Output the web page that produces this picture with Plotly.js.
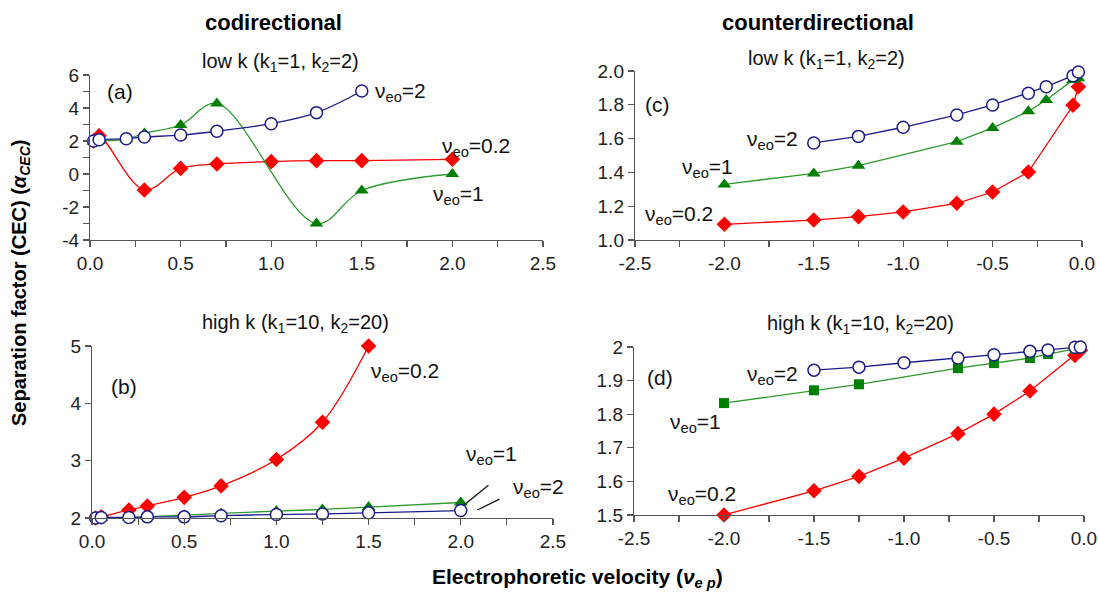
<!DOCTYPE html>
<html>
<head>
<meta charset="utf-8">
<script src="https://cdn.plot.ly/plotly-3.0.1.min.js"></script>
<style>html,body{margin:0;padding:0;background:#fff;}#chart{width:1098px;height:592px;}</style>
</head>
<body>
<div id="chart"></div>
<script>
// ---------- Data ----------
// (a) codirectional, low k
const aX_red   = [0.02, 0.05, 0.3, 0.5, 0.7, 1.0, 1.25, 1.5, 2.0];
const aY_red   = [2.0, 2.32, -0.97, 0.34, 0.61, 0.75, 0.81, 0.81, 0.89];
const aX_green = [0.02, 0.05, 0.2, 0.3, 0.5, 0.7, 1.25, 1.5, 2.0];
const aY_green = [1.96, 2.0, 2.1, 2.46, 2.97, 4.28, -3.0, -1.0, 0.0];
const aX_blue  = [0.02, 0.05, 0.2, 0.3, 0.5, 0.7, 1.0, 1.25, 1.5];
const aY_blue  = [2.0, 2.08, 2.14, 2.24, 2.36, 2.59, 3.05, 3.72, 5.03];
// (b) codirectional, high k
const bX_red   = [0.02, 0.05, 0.2, 0.3, 0.5, 0.7, 1.0, 1.25, 1.5];
const bY_red   = [2.0, 2.02, 2.14, 2.21, 2.36, 2.56, 3.02, 3.67, 5.0];
const bX_green = [0.02, 0.05, 0.2, 0.3, 0.5, 0.7, 1.0, 1.25, 1.5, 2.0];
const bY_green = [1.98, 2.0, 2.0, 2.02, 2.05, 2.08, 2.12, 2.15, 2.19, 2.27];
const bX_blue  = [0.02, 0.05, 0.2, 0.3, 0.5, 0.7, 1.0, 1.25, 1.5, 2.0];
const bY_blue  = [2.0, 2.01, 2.01, 2.02, 2.02, 2.04, 2.06, 2.07, 2.09, 2.13];
// (c) counterdirectional, low k
const cX_red   = [-2.0, -1.5, -1.25, -1.0, -0.7, -0.5, -0.3, -0.05, -0.02];
const cY_red   = [1.093, 1.118, 1.138, 1.166, 1.217, 1.284, 1.402, 1.797, 1.907];
const cX_green = [-2.0, -1.5, -1.25, -0.7, -0.5, -0.3, -0.2, -0.05, -0.02];
const cY_green = [1.329, 1.394, 1.44, 1.582, 1.663, 1.761, 1.828, 1.947, 1.957];
const cX_blue  = [-1.5, -1.25, -1.0, -0.7, -0.5, -0.3, -0.2, -0.05, -0.02];
const cY_blue  = [1.574, 1.613, 1.667, 1.74, 1.799, 1.868, 1.907, 1.972, 1.994];
// (d) counterdirectional, high k
const dX_red   = [-2.0, -1.5, -1.25, -1.0, -0.7, -0.5, -0.3, -0.05, -0.02];
const dY_red   = [1.50, 1.572, 1.615, 1.669, 1.742, 1.80, 1.869, 1.975, 1.99];
const dX_green = [-2.0, -1.5, -1.25, -0.7, -0.5, -0.3, -0.2, -0.05, -0.02];
const dY_green = [1.833, 1.871, 1.889, 1.937, 1.952, 1.967, 1.979, 1.995, 1.997];
const dX_blue  = [-1.5, -1.25, -1.0, -0.7, -0.5, -0.3, -0.2, -0.05, -0.02];
const dY_blue  = [1.931, 1.94, 1.953, 1.967, 1.977, 1.987, 1.991, 1.999, 2.0];

// Tick labels
const coTickVals = [0, 0.5, 1.0, 1.5, 2.0, 2.5];
const coTickText = ['0.0', '0.5', '1.0', '1.5', '2.0', '2.5'];
const ctTickVals = [-2.5, -2.0, -1.5, -1.0, -0.5, 0];
const ctTickText = ['-2.5', '-2.0', '-1.5', '-1.0', '-0.5', '0.0'];
const aYTickVals = [-4, -2, 0, 2, 4, 6];
const aYTickText = ['-4', '-2', '0', '2', '4', '6'];
const bYTickVals = [2, 3, 4, 5];
const cYTickVals = [1.0, 1.2, 1.4, 1.6, 1.8, 2.0];
const cYTickText = ['1.0', '1.2', '1.4', '1.6', '1.8', '2.0'];
const dYTickVals = [1.5, 1.6, 1.7, 1.8, 1.9, 2.0];
const dYTickText = ['1.5', '1.6', '1.7', '1.8', '1.9', '2'];

// ---------- Styles ----------
const RED = '#ff0000', GREEN_M = '#008000', GREEN_L = '#2f9a2f', BLUE = '#1c1c8c';
const FONT = 'Liberation Sans, Arial, sans-serif';

function tr(x, y, xa, ya, kind, shape, square) {
  const t = {x: x, y: y, xaxis: xa, yaxis: ya, mode: 'lines+markers', type: 'scatter',
    cliponaxis: false, hoverinfo: 'skip'};
  const ls = shape === 'spline' ? {shape: 'spline', smoothing: 1} : {shape: 'linear'};
  if (kind === 'red') {
    t.line = Object.assign({color: RED, width: 1.3}, ls);
    t.marker = {symbol: 'diamond', size: 12, color: RED};
  } else if (kind === 'green') {
    t.line = Object.assign({color: GREEN_L, width: 1.3}, ls);
    t.marker = square ? {symbol: 'square', size: 10, color: GREEN_M}
                      : {symbol: 'triangle-up', size: 12, color: GREEN_M};
  } else {
    t.line = Object.assign({color: BLUE, width: 1.3}, ls);
    t.marker = {symbol: 'circle', size: 12, color: '#ffffff', line: {color: BLUE, width: 1.5}};
  }
  return t;
}

const data = [
  tr(aX_red, aY_red, 'x', 'y', 'red', 'spline'),
  tr(aX_green, aY_green, 'x', 'y', 'green', 'spline'),
  tr(aX_blue, aY_blue, 'x', 'y', 'blue', 'spline'),
  tr(cX_red, cY_red, 'x2', 'y2', 'red', 'linear'),
  tr(cX_green, cY_green, 'x2', 'y2', 'green', 'linear'),
  tr(cX_blue, cY_blue, 'x2', 'y2', 'blue', 'linear'),
  tr(bX_red, bY_red, 'x3', 'y3', 'red', 'spline'),
  tr(bX_green, bY_green, 'x3', 'y3', 'green', 'spline'),
  tr(bX_blue, bY_blue, 'x3', 'y3', 'blue', 'spline'),
  tr(dX_red, dY_red, 'x4', 'y4', 'red', 'linear'),
  tr(dX_green, dY_green, 'x4', 'y4', 'green', 'linear', true),
  tr(dX_blue, dY_blue, 'x4', 'y4', 'blue', 'linear')
];

const AXC = '#555555';
const TICKFONT = {family: FONT, size: 19, color: '#222'};
function xax(domain, anchor, range, vals, text) {
  return {domain: domain, anchor: anchor, range: range, tickmode: 'array', tickvals: vals, ticktext: text,
    showgrid: false, zeroline: false, showline: true, linecolor: AXC, linewidth: 1.2,
    ticks: 'outside', ticklen: 6, tickcolor: AXC, tickwidth: 1.2,
    minor: {dtick: 0.25, ticks: 'outside', ticklen: 6, tickcolor: AXC, tickwidth: 1.2, showgrid: false},
    tickfont: TICKFONT, fixedrange: true};
}
function yax(domain, anchor, range, vals, text, minorDtick) {
  const a = {domain: domain, anchor: anchor, range: range, tickmode: 'array', tickvals: vals, ticktext: text,
    showgrid: false, zeroline: false, showline: true, linecolor: AXC, linewidth: 1.2,
    ticks: 'outside', ticklen: 6, tickcolor: AXC, tickwidth: 1.2,
    tickfont: TICKFONT, fixedrange: true};
  if (minorDtick) a.minor = {dtick: minorDtick, ticks: 'outside', ticklen: 6, tickcolor: AXC, tickwidth: 1.2, showgrid: false};
  return a;
}

function ann(text, x, y, xref, yref, opts) {
  return Object.assign({text: text, x: x, y: y, xref: xref, yref: yref, showarrow: false,
    xanchor: 'left', yanchor: 'middle', font: {family: FONT, size: 21, color: '#111'}}, opts || {});
}
const nu = (s) => 'ν<sub>eo</sub>=' + s;
const paperAnn = (text, px, py, opts) => ann(text, px / 1098, 1 - py / 592, 'paper', 'paper',
  Object.assign({xanchor: 'center'}, opts || {}));
const PT = {family: FONT, size: 20, color: '#111'};
const HT = {family: FONT, size: 22, color: '#000'};

const annotations = [
  paperAnn('<b>codirectional</b>', 273, 22, {font: HT}),
  paperAnn('<b>counterdirectional</b>', 818, 22, {font: HT}),
  paperAnn('low k (k<sub>1</sub>=1, k<sub>2</sub>=2)', 280, 63, {font: PT}),
  paperAnn('low k (k<sub>1</sub>=1, k<sub>2</sub>=2)', 826, 60, {font: PT}),
  paperAnn('high k (k<sub>1</sub>=10, k<sub>2</sub>=20)', 295, 323, {font: PT}),
  paperAnn('high k (k<sub>1</sub>=10, k<sub>2</sub>=20)', 860, 324, {font: PT}),
  paperAnn('<b>Separation factor (CEC) (<i>α<sub>CEC</sub></i>)</b>', 20, 283, {textangle: -90, font: {family: FONT, size: 20, color: '#000'}}),
  paperAnn('<b>Electrophoretic velocity (<i>ν<sub>e p</sub></i>)</b>', 577, 578, {font: {family: FONT, size: 21, color: '#000'}}),
  // (a)
  ann('(a)', 0.08, 4.97, 'x', 'y'),
  ann(nu('2'), 1.56, 4.97, 'x', 'y'),
  ann(nu('0.2'), 1.93, 1.64, 'x', 'y'),
  ann(nu('1'), 1.88, -1.27, 'x', 'y'),
  // (c)
  ann('(c)', -2.455, 1.80, 'x2', 'y2'),
  ann(nu('2'), -1.885, 1.59, 'x2', 'y2'),
  ann(nu('1'), -2.248, 1.426, 'x2', 'y2'),
  ann(nu('0.2'), -2.455, 1.148, 'x2', 'y2'),
  // (b)
  ann('(b)', 0.092, 4.30, 'x3', 'y3'),
  ann(nu('0.2'), 1.50, 4.55, 'x3', 'y3'),
  ann(nu('1'), 2.02, 3.10, 'x3', 'y3'),
  ann(nu('2'), 2.27, 2.52, 'x3', 'y3'),
  // (d)
  ann('(d)', -2.44, 1.908, 'x4', 'y4'),
  ann(nu('2'), -1.883, 1.917, 'x4', 'y4'),
  ann(nu('1'), -2.31, 1.774, 'x4', 'y4'),
  ann(nu('0.2'), -2.32, 1.56, 'x4', 'y4')
];

// Leader lines in (b)
const leaderX1 = [2.02, 2.15], leaderY1 = [2.23, 2.57];
const leaderX2 = [2.09, 2.21], leaderY2 = [2.14, 2.33];
const shapes = [
  {type: 'line', xref: 'x3', yref: 'y3', x0: leaderX1[0], y0: leaderY1[0], x1: leaderX1[1], y1: leaderY1[1], line: {color: '#111', width: 1.3}},
  {type: 'line', xref: 'x3', yref: 'y3', x0: leaderX2[0], y0: leaderY2[0], x1: leaderX2[1], y1: leaderY2[1], line: {color: '#111', width: 1.3}}
];

const layout = {
  width: 1098, height: 592, margin: {l: 0, r: 0, t: 0, b: 0},
  paper_bgcolor: '#fff', plot_bgcolor: 'rgba(0,0,0,0)', showlegend: false,
  font: {family: FONT},
  xaxis:  xax([0.082, 0.4945], 'y',  [0, 2.5], coTickVals, coTickText),
  yaxis:  yax([0.5946, 0.8733], 'x',  [-4, 6], aYTickVals, aYTickText, 1),
  xaxis2: xax([0.5783, 0.9854], 'y2', [-2.5, 0], ctTickVals, ctTickText),
  yaxis2: yax([0.5946, 0.8801], 'x2', [1, 2], cYTickVals, cYTickText),
  xaxis3: xax([0.0838, 0.5036], 'y3', [0, 2.5], coTickVals, coTickText),
  yaxis3: yax([0.125, 0.4155], 'x3', [2, 5], bYTickVals, bYTickVals.map(String)),
  xaxis4: xax([0.5774, 0.9872], 'y4', [-2.5, 0], ctTickVals, ctTickText),
  yaxis4: yax([0.1301, 0.4139], 'x4', [1.5, 2], dYTickVals, dYTickText),
  annotations: annotations,
  shapes: shapes
};

Plotly.newPlot('chart', data, layout, {staticPlot: true, displayModeBar: false});
</script>
</body>
</html>
